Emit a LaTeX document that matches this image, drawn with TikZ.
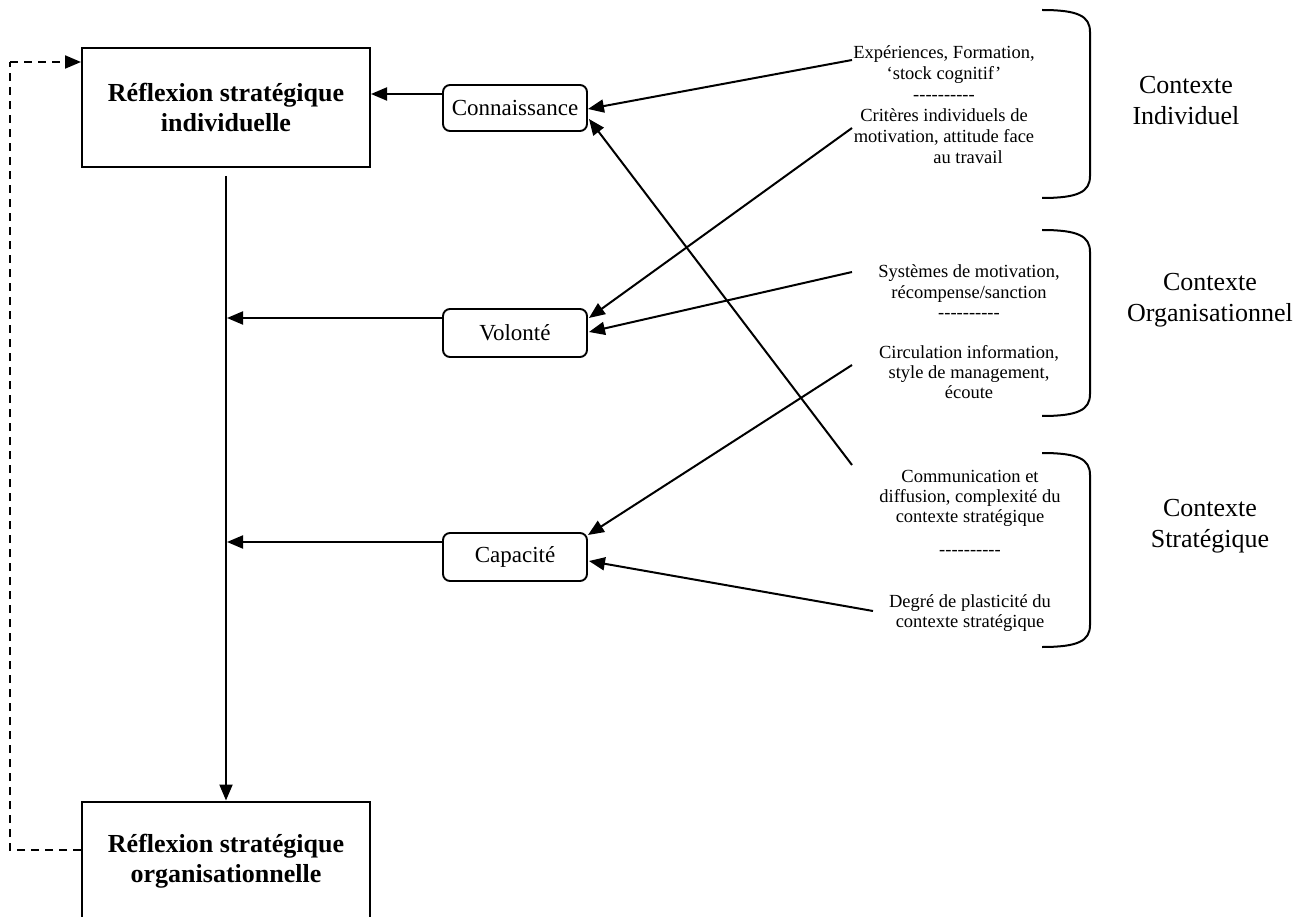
\documentclass[tikz,border=0pt]{standalone}
\usepackage{fontspec}
\setmainfont{Liberation Serif}
\usetikzlibrary{arrows.meta,calc}
\newcommand\tenhyph{-{}-{}-{}-{}-{}-{}-{}-{}-{}-}
\begin{document}
\begin{tikzpicture}[x=1pt,y=-1pt,
  line width=2pt,
  bigbox/.style={draw, line width=2pt, minimum width=288pt, minimum height=119pt, inner sep=0pt, align=center, font=\fontsize{26}{29.5}\selectfont\bfseries},
  smallbox/.style={draw, rounded corners=7pt, line width=1.9pt, minimum width=144pt, minimum height=46pt, inner sep=0pt, font=\fontsize{23}{27}\selectfont},
  src/.style={align=center, inner sep=0pt, font=\fontsize{18.5}{21}\selectfont},
  ctx/.style={align=center, inner sep=0pt, font=\fontsize{26}{31}\selectfont},
  arr/.style={-{Triangle[length=16pt,width=13pt]}, line width=2pt},
  dsh/.style={dash pattern=on 8pt off 6pt, line width=2pt},
  brk/.style={line width=2pt}
]
\useasboundingbox (0,0) rectangle (1307,917);
\clip (0,0) rectangle (1307,917);

% main boxes
\node[bigbox] (rsi) at (226,107.5) {Réflexion stratégique\\individuelle};
\node[bigbox] (rso) at (226,861) {Réflexion stratégique\\organisationnelle};

% small boxes
\node[smallbox] (conn) at (515,108) {Connaissance};
\node[smallbox, minimum height=48pt] (vol) at (515,333) {Volonté};
\node[smallbox, minimum height=48pt] (cap) at (515,557) {Capacité};

% source texts
\node[src] (t1) at (944,105) {Expériences, Formation,\\ ‘stock cognitif’\\ \tenhyph\\ Critères individuels de\\ motivation, attitude face\\ \hspace*{48pt}au travail};
\node[src, font=\fontsize{18.5}{20.2}\selectfont] (t2) at (969,332) {Systèmes de motivation,\\ récompense/sanction\\ \tenhyph\\[20pt] Circulation information,\\ style de management,\\ écoute};
\node[src, font=\fontsize{18.5}{20}\selectfont] (t3) at (970,551) {Communication et\\ diffusion, complexité du\\ contexte stratégique\\[13pt] \tenhyph\\[32pt] Degré de plasticité du\\ contexte stratégique};

% context labels
\node[ctx] (ci) at (1186,101) {Contexte\\Individuel};
\node[ctx] (co) at (1210,300) {Contexte\\Organisationnel};
\node[ctx] (cs) at (1210,526) {Contexte\\Stratégique};

% brackets
\foreach \t/\b in {10/198, 230/416, 453/647}
  \draw[brk] (1042,\t) .. controls (1078,\t) and (1090,\t+6) .. (1090,\t+22)
     -- (1090,\b-22) .. controls (1090,\b-6) and (1078,\b) .. (1042,\b);

% coordinates
\coordinate (jv) at (227,318);
\coordinate (jc) at (227,542);
\coordinate (s1) at (852,60);
\coordinate (s2) at (852,128);
\coordinate (s3) at (852,272);
\coordinate (s4) at (852,365);
\coordinate (s5) at (852,465);
\coordinate (s6) at (873,611);
\coordinate (d1) at (10,850);
\coordinate (d2) at (10,62);

% main flow
\draw[arr] ([yshift=-8pt]rsi.south) -- (rso.north);
\draw[arr] ($(conn.west)+(0,-14)$) -- ($(rsi.east)+(0,-13.5)$);
\draw[arr] ($(vol.west)+(0,-15)$) -- (jv);
\draw[arr] ($(cap.west)+(0,-15)$) -- (jc);

% inputs
\draw[arr] (s1) -- ($(conn.east)+(0,1)$);
\draw[arr] (s5) -- ($(conn.east)+(1,11)$);
\draw[arr] (s2) -- ($(vol.east)+(1,-15)$);
\draw[arr] (s3) -- ($(vol.east)+(1,-1)$);
\draw[arr] (s4) -- ($(cap.east)+(0,-22)$);
\draw[arr] (s6) -- ($(cap.east)+(1,4)$);

% dashed feedback
\draw[dsh] ($(rso.west)+(0,-11)$) -- (d1) -- (d2);
\draw[dsh, arr] (d2) -- ($(rsi.west)+(0,-45.5)$);
\end{tikzpicture}
\end{document}
